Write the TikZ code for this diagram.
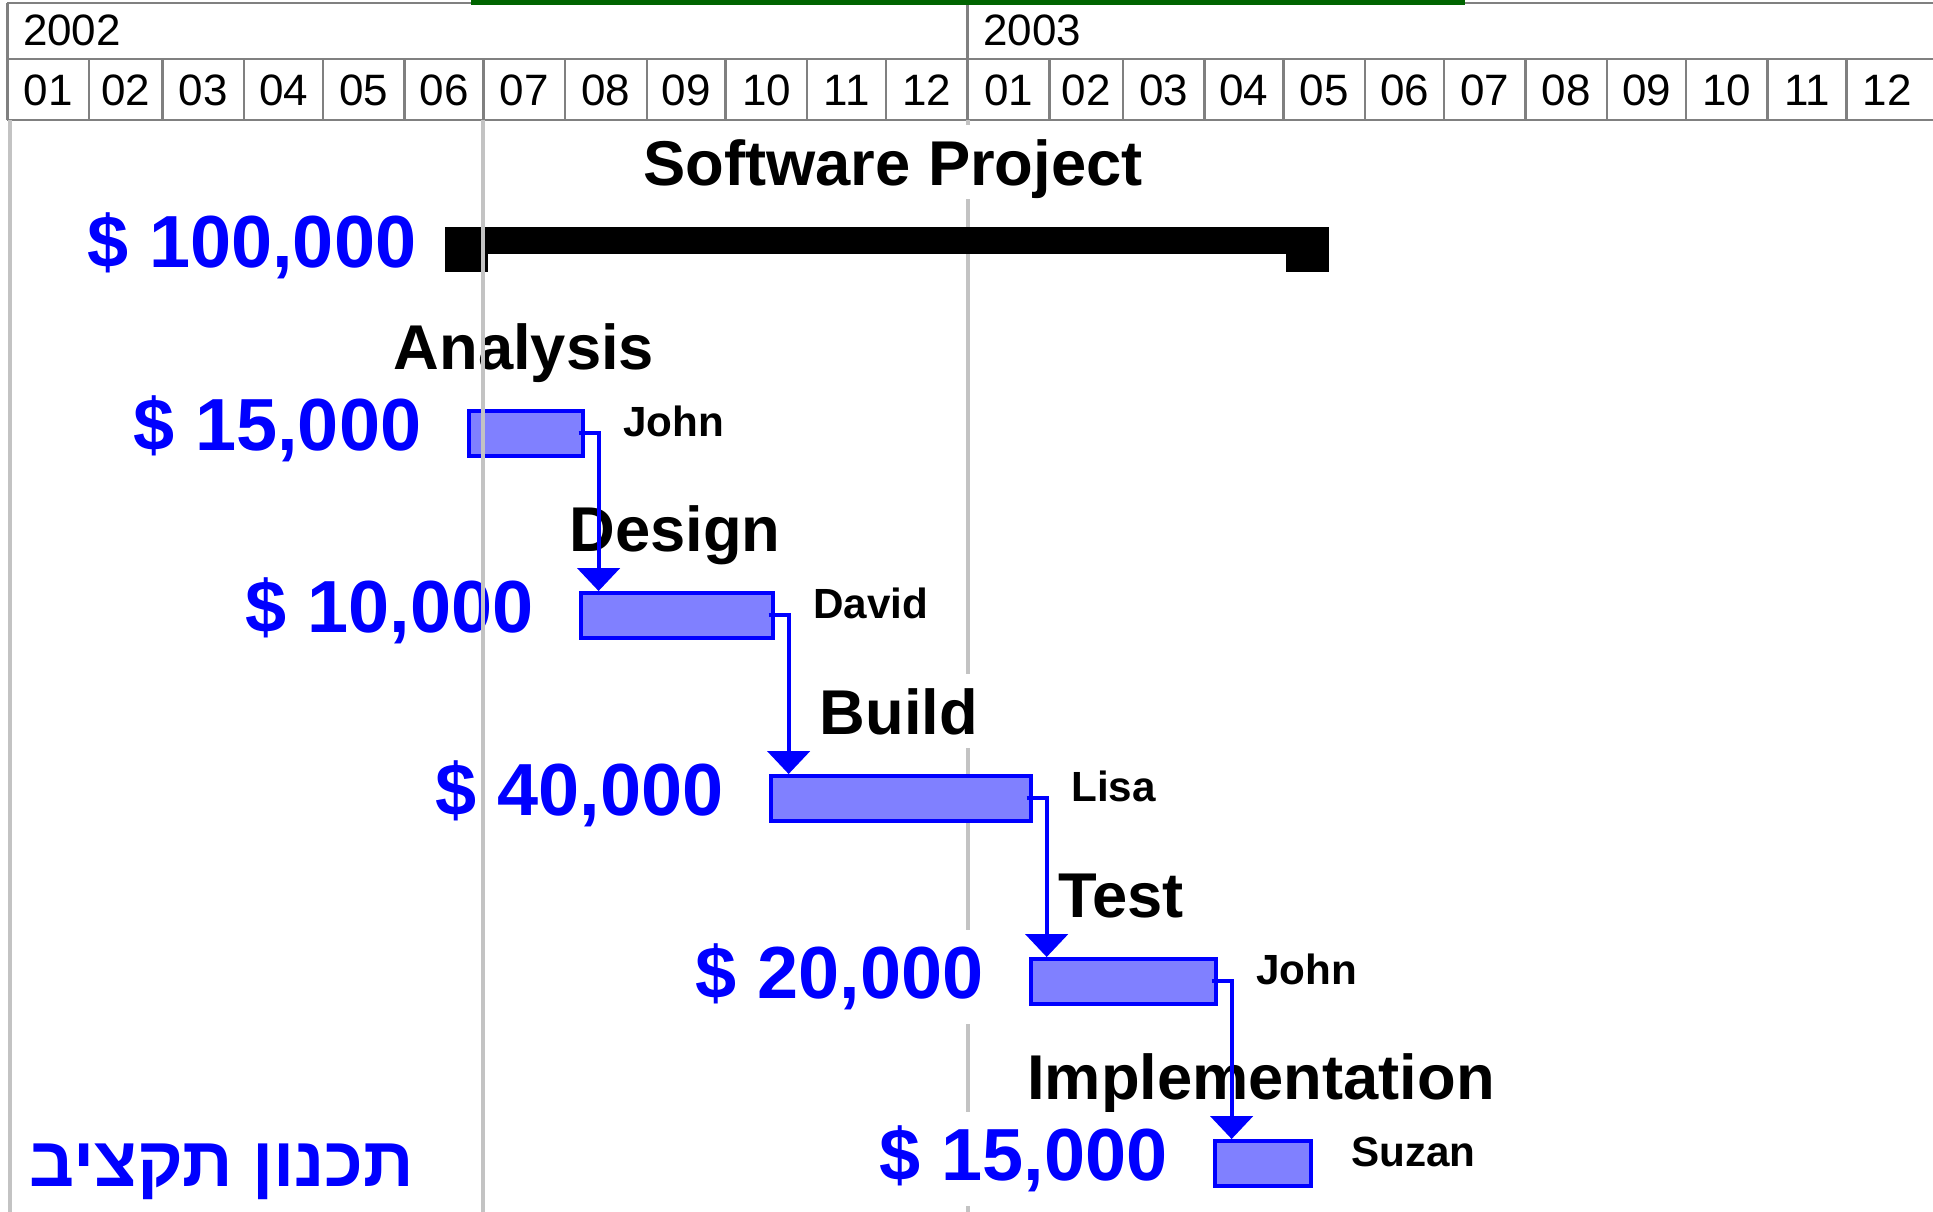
\documentclass[tikz,border=0pt]{standalone}
\usepackage{fontspec}
\setmainfont{Liberation Sans}
\newfontfamily\hebfont[Script=Hebrew]{Liberation Sans}
\TeXXeTstate=1
\usetikzlibrary{arrows.meta, positioning, calc}
\definecolor{barblue}{RGB}{128,128,255}
\definecolor{gridgray}{RGB}{128,128,128}
\definecolor{guidegray}{RGB}{195,195,195}
\definecolor{topgreen}{RGB}{0,100,0}

\tikzset{
  grid/.style={gridgray, line width=0.7pt},
  guide/.style={guidegray, line width=1.1pt},
  monthlabel/.style={inner sep=0pt, font=\fontsize{12.5}{14}\selectfont},
  taskbar/.style={draw=blue, fill=barblue, line width=1pt, minimum height=0.45cm, inner sep=0pt, anchor=north west},
  sumpart/.style={fill=black, inner sep=0pt, anchor=north west},
  taskname/.style={fill=white, inner xsep=0pt, inner ysep=4pt, text depth=0pt, anchor=base, font=\fontsize{18}{20}\selectfont\bfseries},
  cost/.style={fill=white, inner xsep=0pt, inner ysep=4pt, anchor=base east, text=blue, font=\fontsize{21}{24}\selectfont\bfseries},
  person/.style={inner sep=0pt, anchor=base west, font=\fontsize{12}{14}\selectfont\bfseries},
  link/.style={draw=blue, line width=1.1pt, -{Triangle[width=12pt,length=6.5pt]}}
}

\begin{document}
\begin{tikzpicture}[x=0.01cm, y=-0.01cm]
    \useasboundingbox (0,0) rectangle (1933,1212);

    % Time scale
    \draw[grid] (7.4,3) -- (1933,3);
    \draw[grid] (7.4,59) -- (1933,59);
    \draw[grid] (7.4,120) -- (1933,120);
    \foreach \yr/\off in {2002/0, 2003/365} {
        \draw[grid] ({7.4+2.631*\off},3) -- ({7.4+2.631*\off},120);
        \node[monthlabel, anchor=west] (y\yr) at ({7.4+2.631*\off+15},30) {\yr};
        \foreach \m/\a/\b in {01/0/31, 02/31/59, 03/59/90, 04/90/120, 05/120/151, 06/151/181,
                              07/181/212, 08/212/243, 09/243/273, 10/273/304, 11/304/334, 12/334/365} {
            \draw[grid] ({7.4+2.631*(\off+\a)},59) -- ({7.4+2.631*(\off+\a)},120);
            \node[monthlabel] (m\yr\m) at ({7.4+2.631*(\off+(\a+\b)/2)},90) {\m};
        }
    }
    \fill[topgreen] (471,0) rectangle (1465,5);

    % Guides behind
    \draw[guide] (10,120) -- (10,1212);
    \draw[guide] (968,120) -- (968,1212);

    % Summary
    \node[sumpart, minimum width=8.84cm, minimum height=0.27cm] (sum) at (444,226) {};
    \node[sumpart, minimum width=0.43cm, minimum height=0.45cm] (capL) at (sum.north west) {};
    \node[sumpart, minimum width=0.43cm, minimum height=0.45cm, anchor=north east] (capR) at (sum.north east) {};
    \node[taskname] (title) at (893,185) {Software Project};
    \node[cost] (total) at ($(capL.south west)+(-27,-5)$) {\$ 100,000};

    % Task names
    \node[taskname] (nA) at (524,369) {Analysis};
    \node[taskname] (nD) at (675,551) {Design};
    \node[taskname] (nB) at (899,734) {Build};
    \node[taskname] (nT) at (1121,917) {Test};
    \node[taskname] (nI) at (1261,1099) {Implementation};

    % Tasks
    \node[taskbar, minimum width=1.14cm] (bA) at (467,409) {};
    \node[taskbar, minimum width=1.92cm] (bD) at (579,591) {};
    \node[taskbar, minimum width=2.60cm] (bB) at (769,774) {};
    \node[taskbar, minimum width=1.85cm] (bT) at (1029,957) {};
    \node[taskbar, minimum width=0.96cm] (bI) at (1213,1139) {};

    \foreach \b/\c/\p/\who in {bA/{15,000}/pA/John, bD/{10,000}/pD/David, bB/{40,000}/pB/Lisa,
                               bT/{20,000}/pT/John, bI/{15,000}/pI/Suzan} {
        \node[cost] (c\b) at ($(\b.south west)+(-45,-7)$) {\$ \c};
        \node[person] (\p) at ($(\b.east)+(38,3)$) {\who};
    }

    % Links
    \draw[link] ($(bA.east)+(-6,0)$) -| ($(bA.east |- bD.north)+(14,0)$);
    \draw[link] ($(bD.east)+(-6,0)$) -| ($(bD.east |- bB.north)+(14,0)$);
    \draw[link] ($(bB.east)+(-6,0)$) -| ($(bB.east |- bT.north)+(14,0)$);
    \draw[link] ($(bT.east)+(-6,0)$) -| ($(bT.east |- bI.north)+(14,0)$);

    \node[inner sep=0pt, anchor=base east, text=blue, font=\fontsize{20}{22}\selectfont\hebfont\bfseries] (budget) at (415,1186) {\beginR תכנון תקציב\endR};

    % Guide in front
    \draw[guide] (483,120) -- (483,1212);
\end{tikzpicture}
\end{document}
